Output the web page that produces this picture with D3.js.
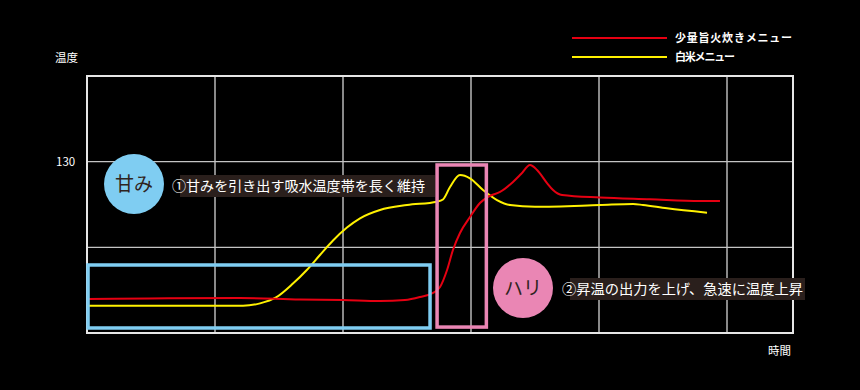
<!DOCTYPE html>
<html><head><meta charset="utf-8">
<script src="https://cdn.jsdelivr.net/npm/d3@7"></script>
<style>
html,body{margin:0;padding:0;background:#000;}
svg{display:block;font-family:"Noto Sans CJK JP","Noto Sans",sans-serif;}
</style></head>
<body><svg id="c" width="860" height="390"></svg>
<script>
// time (grid units) and temperature values
const timeTicks = [1, 2, 3, 4, 5];
const tempTicks = [65, 130];
const tempLabels = ["", "130"];
const seriesNames = ["少量旨火炊きメニュー", "白米メニュー"];
const seriesColors = ["#e60012", "#fff100"];

const redT = [0.008,0.49,1.195,1.664,2.0,2.289,2.484,2.602,2.703,2.758,2.813,2.859,2.914,2.992,3.070,3.148,3.227,3.328,3.391,3.461,3.516,3.594,3.641,3.711,4.008,4.398,4.789,4.945];
const redV = [25.8,26.2,26.6,25.4,25.0,24.3,25.0,27.3,30.4,34.9,47.8,63.0,75.9,88.0,98.6,104.0,107.0,114.6,120.6,127.5,123.7,113.8,108.5,104.7,102.8,101.5,100.2,100.2];

const yelT = [0.008,1.219,1.352,1.477,1.609,1.719,1.820,1.922,2.031,2.133,2.289,2.5,2.734,2.781,2.836,2.914,2.992,3.094,3.203,3.305,3.5,4.008,4.266,4.344,4.531,4.844];
const yelV = [20.7,20.7,22.5,27.0,37.5,48.0,59.2,70.2,80.0,87.0,93.3,97.1,99.6,101.3,110.8,119.9,117.4,108.5,100.9,97.1,95.8,97.1,97.9,97.1,94.6,91.3];

// annotation regions in data units
const zoneSweet = {t0: 0.008, t1: 2.68, v0: 3.8, v1: 51.6};
const zoneHari  = {t0: 2.735, t1: 3.12, v0: 4.5, v1: 127.5};
const note1 = "①甘みを引き出す吸水温度帯を長く維持";
const note2 = "②昇温の出力を上げ、急速に温度上昇";

const svg = d3.select("#c");
const L = 87, R = 793, T = 76, B = 333;
const x = d3.scaleLinear().domain([0, 706/128]).range([L, R]);
const y = d3.scaleLinear().domain([0, 195]).range([B, T]);

// grid
svg.append("g").selectAll("line").data(timeTicks).join("line")
  .attr("x1", d => x(d)).attr("x2", d => x(d)).attr("y1", T).attr("y2", B)
  .attr("stroke", "#c4c4c4").attr("stroke-width", 1.4);
svg.append("g").selectAll("line").data(tempTicks).join("line")
  .attr("x1", L).attr("x2", R).attr("y1", d => y(d)).attr("y2", d => y(d))
  .attr("stroke", "#c4c4c4").attr("stroke-width", 1.4);
// frame
svg.append("rect").attr("x", L).attr("y", T).attr("width", R - L).attr("height", B - T)
  .attr("fill", "none").attr("stroke", "#e6e6e6").attr("stroke-width", 2);

// axis labels
svg.append("g").selectAll("text").data(tempTicks).join("text")
  .attr("x", 56).attr("y", d => y(d)).attr("dy", "0.35em")
  .attr("fill", "#fff").attr("font-size", 11.5).text((d, i) => tempLabels[i]);
svg.append("text").attr("x", 55).attr("y", 58).attr("dy", "0.35em")
  .attr("fill", "#fff").attr("font-size", 11.5).text("温度");
svg.append("text").attr("x", 768).attr("y", 351).attr("dy", "0.35em")
  .attr("fill", "#fff").attr("font-size", 11.5).text("時間");

// curves
const line = d3.line().x(d => x(d[0])).y(d => y(d[1])).curve(d3.curveMonotoneX);
svg.append("path").datum(yelT.map((t, i) => [t, yelV[i]])).attr("d", line)
  .attr("fill", "none").attr("stroke", seriesColors[1]).attr("stroke-width", 2);
svg.append("path").datum(redT.map((t, i) => [t, redV[i]])).attr("d", line)
  .attr("fill", "none").attr("stroke", seriesColors[0]).attr("stroke-width", 2);

// zones
function zone(z, col) {
  svg.append("rect").attr("x", x(z.t0)).attr("y", y(z.v1))
    .attr("width", x(z.t1) - x(z.t0)).attr("height", y(z.v0) - y(z.v1))
    .attr("fill", "none").attr("stroke", col).attr("stroke-width", 3.5);
}
zone(zoneSweet, "#7fcdf2");
zone(zoneHari, "#ea86b4");

// circles
function badge(cx, cy, col, txt) {
  svg.append("circle").attr("cx", cx).attr("cy", cy).attr("r", 30).attr("fill", col);
  svg.append("text").attr("x", cx).attr("y", cy).attr("dy", "0.36em").attr("text-anchor", "middle")
    .attr("fill", "#2f2320").attr("font-size", 19).text(txt);
}
badge(134, 184, "#7fcdf2", "甘み");
badge(523, 288, "#ea86b4", "ハリ");

// notes
function note(bx, by, bw, tx, txt, len) {
  svg.append("rect").attr("x", bx).attr("y", by).attr("width", bw).attr("height", 22).attr("fill", "#2a1f1c");
  svg.append("text").attr("x", tx).attr("y", by + 11).attr("dy", "0.36em")
    .attr("fill", "#fff").attr("font-size", 14).attr("textLength", len).attr("lengthAdjust", "spacingAndGlyphs").text(txt);
}
note(180, 175, 255, 172, note1, 253);
note(570, 278, 235, 562, note2, 241);

// legend
const lg = svg.append("g");
seriesNames.forEach((n, i) => {
  const ly = 38 + i * 19;
  lg.append("line").attr("x1", 572).attr("x2", 667).attr("y1", ly).attr("y2", ly)
    .attr("stroke", seriesColors[i]).attr("stroke-width", 2);
  lg.append("text").attr("x", 675).attr("y", ly).attr("dy", "0.36em").attr("fill", "#fff")
    .attr("font-size", 11).attr("font-weight", "bold")
    .attr("textLength", i === 0 ? 117 : 60).attr("lengthAdjust", "spacing").text(n);
});
</script></body></html>
